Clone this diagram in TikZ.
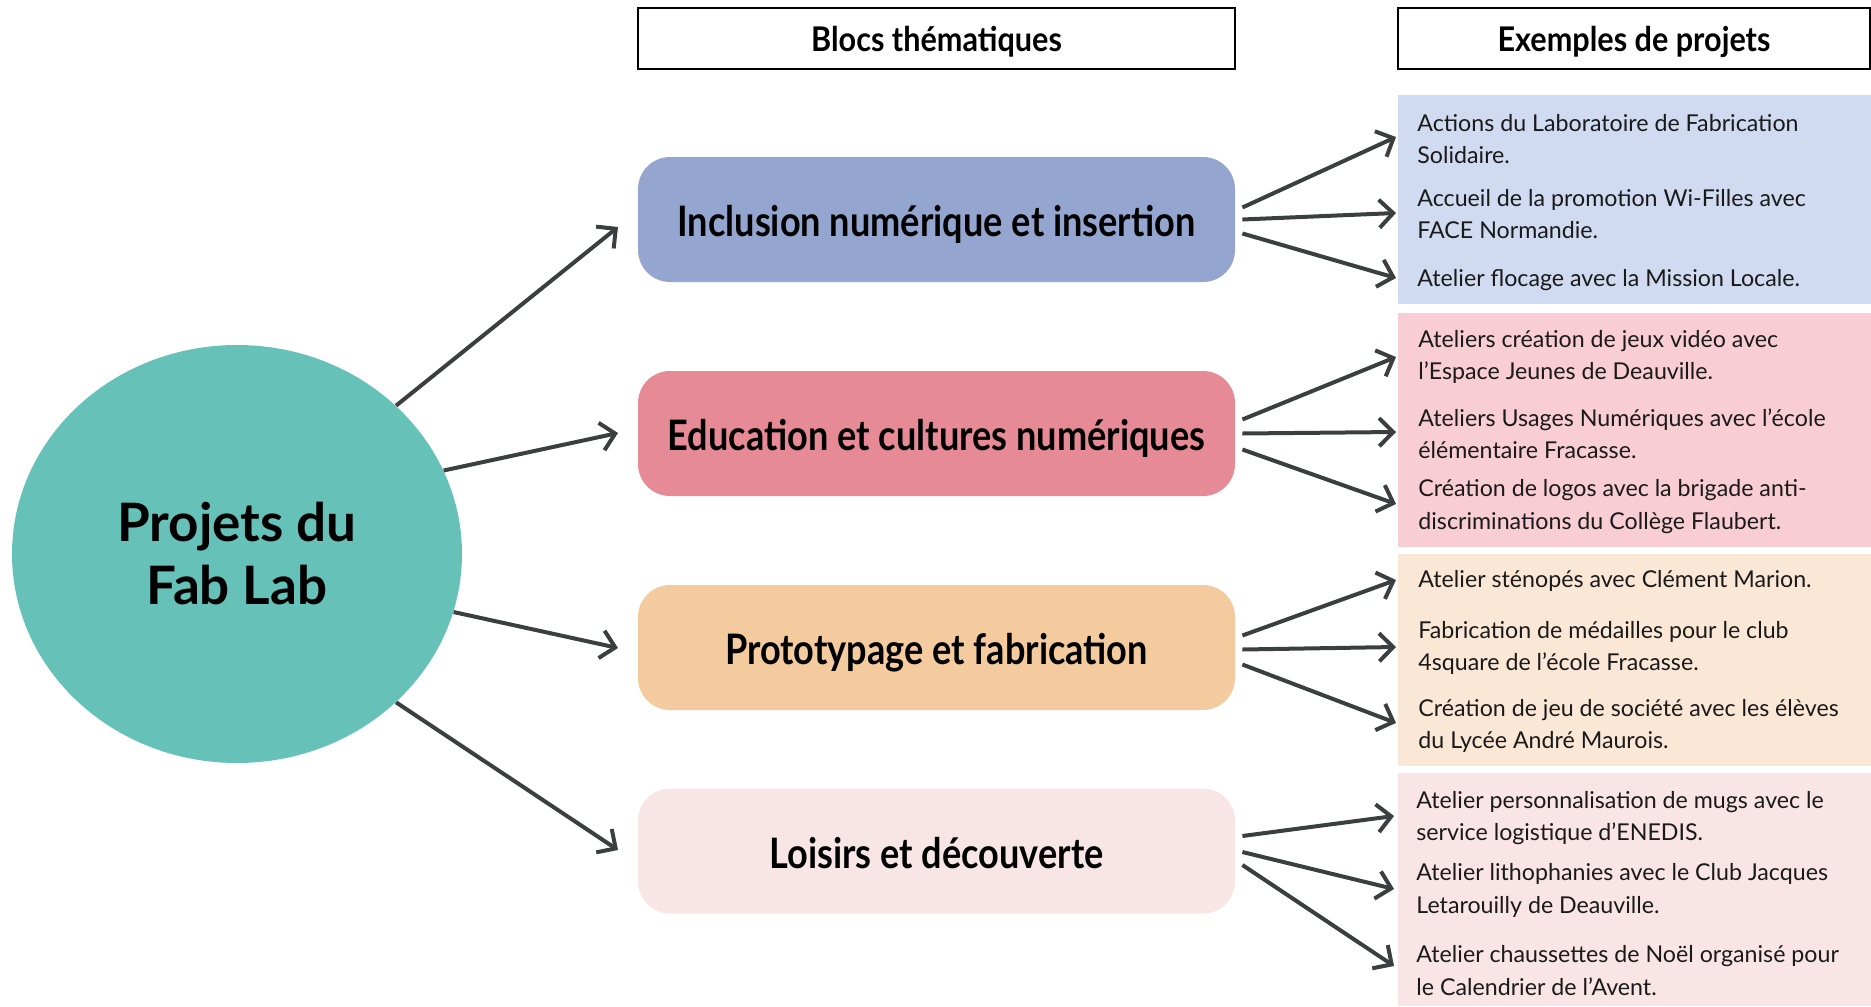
\documentclass[tikz,border=0pt]{standalone}
\usepackage{fontspec}
\setmainfont{Lato}
\newfontfamily\condf[FakeStretch=0.86]{Lato}
\newfontfamily\hdrf[FakeStretch=0.9]{Lato}
\usetikzlibrary{arrows.meta,shapes.geometric}
\definecolor{teal1}{HTML}{66C2B9}
\definecolor{blk1}{HTML}{94A6CF}
\definecolor{blk2}{HTML}{E68A96}
\definecolor{blk3}{HTML}{F3CB9E}
\definecolor{blk4}{HTML}{F8E6E6}
\definecolor{pan1}{HTML}{D0DAF1}
\definecolor{pan2}{HTML}{F8CDD4}
\definecolor{pan3}{HTML}{FBE7D6}
\definecolor{pan4}{HTML}{F9E5E5}
\definecolor{arrc}{HTML}{3C3F3F}
\definecolor{txt}{HTML}{1A1A1A}
\tikzset{
  hdrbox/.style={draw=black, line width=1pt, minimum height=30.5pt, inner sep=0pt,
    text height=13.5pt, text depth=0.5pt,
    font=\hdrf\bfseries\fontsize{17pt}{20pt}\selectfont},
  blockbox/.style={rounded corners=16pt, minimum width=298.5pt, minimum height=62.5pt,
    inner sep=0pt, text height=18pt, text depth=1pt,
    font=\condf\bfseries\fontsize{21pt}{25pt}\selectfont},
  panel/.style={minimum width=236.5pt, inner sep=0pt},
  item/.style={anchor=west, align=left, inner sep=0pt, text=txt,
    font=\fontsize{11.6pt}{16.2pt}\selectfont},
  arr/.style={draw=arrc, line width=2pt, -{Straight Barb[length=7pt,width=14pt,line width=2pt]}},
}
\begin{document}
\begin{tikzpicture}[x=0.5pt,y=-0.5pt]
\useasboundingbox (0,0) rectangle (1871,1006);
% headers
\node[hdrbox, minimum width=298.5pt] (hdr1) at (936.5,38.5) {Blocs thématiques};
\node[hdrbox, minimum width=236pt] (hdr2) at (1634,38.5) {Exemples de projets};
% panels
\node[panel, fill=pan1, minimum height=104.5pt] (p1) at (1634.5,199.5) {};
\node[panel, fill=pan2, minimum height=117pt] (p2) at (1634.5,430) {};
\node[panel, fill=pan3, minimum height=106pt] (p3) at (1634.5,660) {};
\node[panel, fill=pan4, minimum height=116.5pt] (p4) at (1634.5,889.5) {};
% circle
\node[ellipse, fill=teal1, minimum width=225pt, minimum height=209pt, inner sep=0pt,
  align=center, font=\bfseries\fontsize{26.5pt}{31.5pt}\selectfont] (c) at (237,554)
  {Projets du\\Fab Lab};
% blocks
\node[blockbox, fill=blk1] (b1) at (936.5,219.5) {Inclusion numérique et insertion};
\node[blockbox, fill=blk2] (b2) at (936.5,433.5) {Education et cultures numériques};
\node[blockbox, fill=blk3] (b3) at (936.5,647.5) {Prototypage et fabrication};
\node[blockbox, fill=blk4] (b4) at (936.5,851) {Loisirs et découverte};
% items
\node[item] (t11) at (1417,139) {Actions du Laboratoire de Fabrication\\Solidaire.};
\node[item] (t12) at (1417,214) {Accueil de la promotion Wi-Filles avec\\FACE Normandie.};
\node[item] (t13) at (1417,280) {Atelier flocage avec la Mission Locale.};
\node[item] (t21) at (1418,357) {Ateliers création de jeux vidéo avec\\l’Espace Jeunes de Deauville.};
\node[item] (t22) at (1418,433.5) {Ateliers Usages Numériques avec l’école\\élémentaire Fracasse.};
\node[item] (t23) at (1418,506.5) {Création de logos avec la brigade anti-\\discriminations du Collège Flaubert.};
\node[item] (t31) at (1418,581) {Atelier sténopés avec Clément Marion.};
\node[item] (t32) at (1418,648) {Fabrication de médailles pour le club\\4square de l’école Fracasse.};
\node[item] (t33) at (1418,726) {Création de jeu de société avec les élèves\\du Lycée André Maurois.};
\node[item] (t41) at (1416,818) {Atelier personnalisation de mugs avec le\\service logistique d’ENEDIS.};
\node[item] (t42) at (1416,890.5) {Atelier lithophanies avec le Club Jacques\\Letarouilly de Deauville.};
\node[item] (t43) at (1416,970.5) {Atelier chaussettes de Noël organisé pour\\le Calendrier de l’Avent.};
% arrow end coordinates
\coordinate (e1) at (618,227);
\coordinate (e2) at (618,433);
\coordinate (e3) at (618,648);
\coordinate (e4) at (618,850);
\coordinate (e11) at (1396,137);
\coordinate (e12) at (1396,213);
\coordinate (e13) at (1396,278);
\coordinate (e21) at (1396,357);
\coordinate (e22) at (1396,432);
\coordinate (e23) at (1396,504);
\coordinate (e31) at (1396,580);
\coordinate (e32) at (1396,647);
\coordinate (e33) at (1396,723);
\coordinate (e41) at (1394,816);
\coordinate (e42) at (1394,889);
\coordinate (e43) at (1394,966);
% circle arrows
\draw[arr] (c.43) -- (e1);
\draw[arr] (c.22) -- (e2);
\draw[arr] (c.-15) -- (e3);
\draw[arr] (c.-43) -- (e4);
% block arrows
\draw[arr] ([shift={(7,-12)}]b1.east) -- (e11);
\draw[arr] ([shift={(7,0)}]b1.east) -- (e12);
\draw[arr] ([shift={(7,14)}]b1.east) -- (e13);
\draw[arr] ([shift={(7,-14)}]b2.east) -- (e21);
\draw[arr] ([shift={(7,0)}]b2.east) -- (e22);
\draw[arr] ([shift={(7,16)}]b2.east) -- (e23);
\draw[arr] ([shift={(7,-12)}]b3.east) -- (e31);
\draw[arr] ([shift={(7,2)}]b3.east) -- (e32);
\draw[arr] ([shift={(7,17)}]b3.east) -- (e33);
\draw[arr] ([shift={(7,-15)}]b4.east) -- (e41);
\draw[arr] ([shift={(7,1)}]b4.east) -- (e42);
\draw[arr] ([shift={(7,14)}]b4.east) -- (e43);
\end{tikzpicture}
\end{document}
